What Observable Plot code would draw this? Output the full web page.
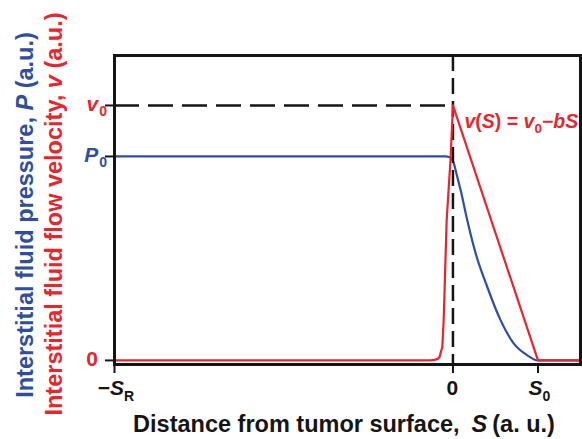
<!DOCTYPE html>
<html>
<head>
<meta charset="utf-8">
<script src="https://cdn.jsdelivr.net/npm/d3@7"></script>
<script src="https://cdn.jsdelivr.net/npm/@observablehq/plot@0.6"></script>
<style>
  html, body { margin: 0; padding: 0; background: #fff; }
  #chart svg { display: block; }
</style>
</head>
<body>
<div id="chart"></div>
<script>
// ---- data (arbitrary units: S0 = 1, v0 = 1) ----
const SR = 3.98;          // distance of -S_R from the tumor surface
const S0 = 1;
const P0 = 0.8;
const V0 = 1;
const xMax = 1.5;

// interstitial fluid pressure P(S)
const pressureS = [-3.98, -0.086, -0.045, -0.015, 0.008, 0.038, 0.091, 0.169, 0.267, 0.405, 0.561, 0.714, 0.875, 1.0, 1.5];
const pressureP = [0.8, 0.8, 0.798, 0.790, 0.776, 0.737, 0.667, 0.549, 0.420, 0.287, 0.157, 0.067, 0.020, 0.0, 0.0];

// interstitial fluid flow velocity v(S)
const velocityS = [-3.98, -0.262, -0.215, -0.18, -0.156, -0.141, -0.125, -0.109, -0.074, -0.027, 0.0, 1.0, 1.5];
const velocityV = [0, 0, 0.002, 0.006, 0.014, 0.035, 0.051, 0.157, 0.549, 0.796, 1.0, 0.0, 0.0];

// ticks
const yTickValues = [0, P0, V0];
const yTickLabels = [
  {main: "0", sub: "", italic: false, color: "red"},
  {main: "P", sub: "0", italic: true, color: "blue"},
  {main: "v", sub: "0", italic: true, color: "red"}
];
const xTickValues = [-SR, 0, S0];
const xTickLabels = [
  {main: "\u2212", it: "S", sub: "R"},
  {main: "0", it: "", sub: ""},
  {main: "", it: "S", sub: "0"}
];

const RED = "#e6262c";
const BLUE = "#2f4e9f";
const BLACK = "#151515";
const FONT = "'Liberation Sans', Arial, Helvetica, sans-serif";

const pressure = pressureS.map((s, i) => ({s, p: pressureP[i]}));
const velocity = velocityS.map((s, i) => ({s, v: velocityV[i]}));

const plot = Plot.plot({
  width: 582,
  height: 439,
  marginLeft: 114,
  marginRight: 2,
  marginTop: 55,
  marginBottom: 75,
  style: {fontFamily: FONT, background: "#fff"},
  x: {domain: [-SR, xMax], axis: null},
  y: {domain: [-0.016, 1.196], axis: null},
  marks: [
    Plot.line(pressure, {x: "s", y: "p", stroke: BLUE, strokeWidth: 2.2, curve: "monotone-x"}),
    Plot.ruleY([V0], {x1: -SR, x2: 0, stroke: BLACK, strokeWidth: 2.5, strokeDasharray: "25,9"}),
    Plot.ruleX([0], {stroke: BLACK, strokeWidth: 2.5, strokeDasharray: "16,7"}),
    Plot.line(velocity, {x: "s", y: "v", stroke: RED, strokeWidth: 2.2, curve: "linear"}),
    Plot.axisY(yTickValues, {tickSize: 9, tickFormat: () => "", stroke: BLACK, strokeWidth: 2, label: null}),
    Plot.axisX(xTickValues, {tickSize: 9, tickFormat: () => "", stroke: BLACK, strokeWidth: 2, label: null}),
    Plot.frame({stroke: BLACK, strokeWidth: 3})
  ]
});

document.getElementById("chart").appendChild(plot);

const X = plot.scale("x").apply;
const Y = plot.scale("y").apply;
const svg = d3.select(plot);
const g = svg.append("g").attr("font-family", FONT).attr("font-weight", "bold");

// y tick labels
yTickValues.forEach((v, i) => {
  const L = yTickLabels[i];
  const col = L.color === "red" ? RED : BLUE;
  const t = g.append("text")
    .attr("x", L.sub ? 107 : 98)
    .attr("y", Y(v) + 6.5)
    .attr("text-anchor", "end")
    .attr("fill", col)
    .attr("font-size", 21);
  t.append("tspan").attr("font-style", L.italic ? "italic" : "normal").text(L.main);
  if (L.sub) t.append("tspan").attr("font-size", 14).attr("dy", 5).attr("dx", 1).text(L.sub);
});

// x tick labels
xTickValues.forEach((v, i) => {
  const L = xTickLabels[i];
  const t = g.append("text")
    .attr("x", X(v) + (L.sub ? 2 : 0))
    .attr("y", 395)
    .attr("text-anchor", "middle")
    .attr("fill", BLACK)
    .attr("font-size", 21);
  if (L.main) t.append("tspan").text(L.main);
  if (L.it) t.append("tspan").attr("font-style", "italic").text(L.it);
  if (L.sub) t.append("tspan").attr("font-size", 14).attr("dy", 6).text(L.sub);
});

// x axis title
const xt = g.append("text")
  .attr("x", 344).attr("y", 432)
  .attr("text-anchor", "middle").attr("fill", BLACK).attr("font-size", 23.5);
xt.append("tspan").text("Distance from tumor surface,");
xt.append("tspan").attr("dx", 12).attr("font-style", "italic").text("S");
xt.append("tspan").attr("dx", 5).text("(a. u.)");

// y axis titles
const yb = g.append("text")
  .attr("transform", "translate(33,215) rotate(-90)")
  .attr("text-anchor", "middle").attr("fill", BLUE).attr("font-size", 23.5);
yb.append("tspan").text("Interstitial fluid pressure, ");
yb.append("tspan").attr("font-style", "italic").text("P");
yb.append("tspan").text(" (a.u.)");

const yr = g.append("text")
  .attr("transform", "translate(62,214) rotate(-90)")
  .attr("text-anchor", "middle").attr("fill", RED).attr("font-size", 23.5);
yr.append("tspan").text("Interstitial fluid flow velocity, ");
yr.append("tspan").attr("font-style", "italic").text("v");
yr.append("tspan").text(" (a.u.)");

// annotation
const an = g.append("text")
  .attr("x", X(0) + 12).attr("y", Y(V0) + 23)
  .attr("text-anchor", "start")
  .attr("fill", RED).attr("font-size", 19.5);
an.append("tspan").attr("font-style", "italic").text("v");
an.append("tspan").text("(");
an.append("tspan").attr("font-style", "italic").text("S");
an.append("tspan").text(") = ");
an.append("tspan").attr("font-style", "italic").text("v");
an.append("tspan").attr("font-size", 13.5).attr("dy", 5).text("0");
an.append("tspan").attr("dy", -5).text("\u2212");
an.append("tspan").attr("font-style", "italic").text("bS");
</script>
</body>
</html>
